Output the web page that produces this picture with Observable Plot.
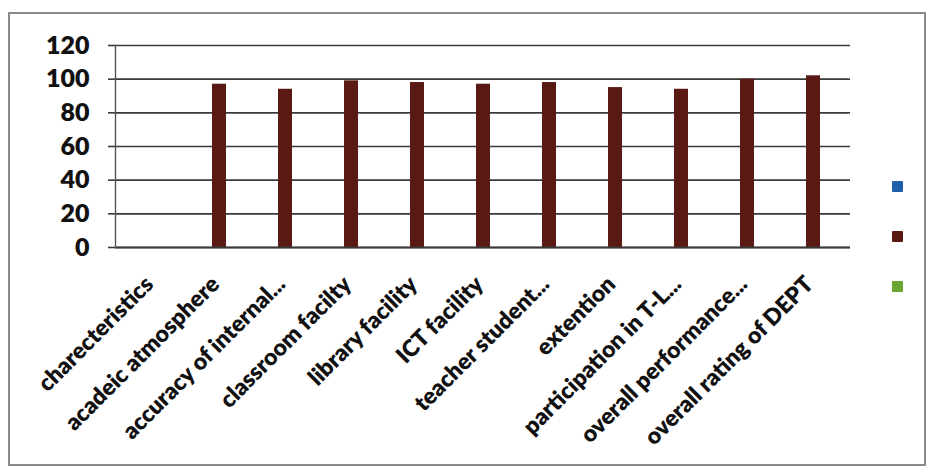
<!DOCTYPE html>
<html>
<head>
<meta charset="utf-8">
<script src="https://cdn.jsdelivr.net/npm/d3@7"></script>
<script src="https://cdn.jsdelivr.net/npm/@observablehq/plot@0.6"></script>
<style>
  html, body { margin: 0; padding: 0; background: #fff; }
  #wrap { position: relative; width: 933px; height: 472px; overflow: hidden; }
  #frame { position: absolute; left: 8px; top: 12px; width: 914px; height: 450px; border: 2px solid #8a8a8a; pointer-events: none; }
  #legend { position: absolute; left: 892px; top: 181px; }
  .sw { width: 11px; height: 11px; margin-bottom: 39px; border-radius: 1px; }
  svg { font-family: Lato, "Open Sans", sans-serif; }
</style>
</head>
<body>
<div id="wrap">
  <div id="chart"></div>
  <div id="frame"></div>
  <div id="legend"></div>
</div>
<script>
const categories = [
  "charecteristics",
  "acadeic atmosphere",
  "accuracy of internal...",
  "classroom facilty",
  "library facility",
  "ICT facility",
  "teacher student...",
  "extention",
  "participation in T-L...",
  "overall performance...",
  "overall rating of DEPT"
];
const seriesValues = [null, 97, 94, 99, 98, 97, 98, 95, 94, 100, 102];
const yTicks = [0, 20, 40, 60, 80, 100, 120];
const legendColors = ["#1f5ea8", "#5a1912", "#6aa632"];

const data = categories.map((c, i) => ({cat: c, v: seriesValues[i]})).filter(d => d.v != null);

const plot = Plot.plot({
  width: 933,
  height: 472,
  marginLeft: 115,
  marginRight: 83,
  marginTop: 45,
  marginBottom: 225,
  style: {fontFamily: "Lato, 'Open Sans', sans-serif", background: "transparent"},
  x: {domain: categories, paddingInner: 0.79, paddingOuter: 0.395, label: null},
  y: {domain: [0, 120], ticks: yTicks, label: null},
  marks: [
    Plot.gridY(yTicks, {stroke: "#3a3a3a", strokeOpacity: 1, strokeWidth: 1.6}),
    Plot.axisY({ticks: yTicks, tickSize: 7, stroke: "#3a3a3a", strokeWidth: 1.6, tickPadding: 19, fontSize: 25, fontWeight: 800, fill: "#111", label: null}),
    Plot.axisX({tickSize: 0, tickPadding: 16, tickRotate: -45, fontSize: 23, fontWeight: 800, fill: "#111", dx: -4, dy: 17, label: null}),
    Plot.barY(data, {x: "cat", y: "v", fill: legendColors[1]}),
    Plot.ruleY([0], {stroke: "#3a3a3a", strokeWidth: 1.8}),
    Plot.frame({anchor: "left", stroke: "#555", strokeWidth: 1.4})
  ]
});
document.getElementById("chart").appendChild(plot);

const leg = document.getElementById("legend");
legendColors.forEach(c => {
  const d = document.createElement("div");
  d.className = "sw";
  d.style.background = c;
  leg.appendChild(d);
});
</script>
</body>
</html>
